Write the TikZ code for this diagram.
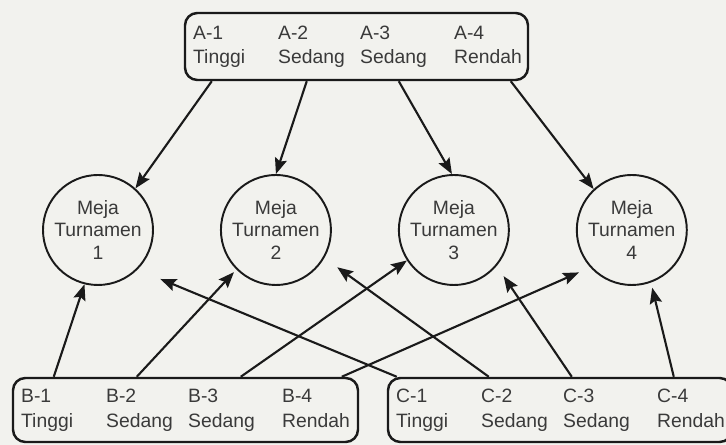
\documentclass[tikz,border=0pt]{standalone}
\usepackage{fontspec}
\setmainfont{Liberation Sans}
\usepackage{tikz}
\usetikzlibrary{arrows.meta,positioning}
\definecolor{Paper}{HTML}{F2F2EE}
\definecolor{Ink}{HTML}{1A1A1A}
\definecolor{Txt}{HTML}{3A3A3A}

\begin{document}
\begin{tikzpicture}[every node/.style={font=\fontsize{11}{14}\selectfont, text=Txt}]
  \fill[Paper] (0,0) rectangle (14.52,8.90);
  \useasboundingbox (0,0) rectangle (14.52,8.90);
  \tikzset{
    grp/.style={draw=Ink, line width=1.4pt, rounded corners=7pt, inner sep=0pt},
    meja/.style={draw=Ink, line width=1.1pt, circle, minimum size=2.2cm, inner sep=0pt,
                 align=center, font=\fontsize{11}{12.8}\selectfont},
    lbl/.style={anchor=north west, align=left, inner sep=0pt},
    arr/.style={-{Stealth[length=9pt,width=7pt,inset=1.5pt]}, draw=Ink, line width=1.2pt}
  }

  % kelompok asal
  \node[grp, minimum width=6.86cm, minimum height=1.34cm] (boxA) at (7.13,7.97) {};
  \node[grp, minimum width=6.90cm, minimum height=1.28cm] (boxB) at (3.71,0.70) {};
  \node[grp, minimum width=6.88cm, minimum height=1.28cm] (boxC) at (11.20,0.70) {};

  \foreach \g in {A,B,C}
    \foreach \i/\lv/\dx in {1/Tinggi/0.18, 2/Sedang/1.88, 3/Sedang/3.52, 4/Rendah/5.40}
      \node[lbl] (\g\i) at ([xshift=\dx cm, yshift=0.42cm]box\g.west) {\g-\i\\\lv};

  % meja turnamen
  \node[meja] (m1) at (1.96,4.30) {Meja\\Turnamen\\1};
  \node[meja, right=1.32cm of m1] (m2) {Meja\\Turnamen\\2};
  \node[meja, right=1.32cm of m2] (m3) {Meja\\Turnamen\\3};
  \node[meja, right=1.32cm of m3] (m4) {Meja\\Turnamen\\4};

  \foreach \dx/\t in {0.56/m1.48, 2.46/m2.90, 4.30/m3.92, 6.54/m4.133}
    \draw[arr] ([xshift=\dx cm]boxA.south west) -- (\t);

  \foreach \dx/\t/\s in {0.84/m1.256/0pt, 2.50/m2.225/2pt, 4.58/m3.213/0pt, 6.60/m4.222/7pt}
    \draw[arr, shorten >=\s] ([xshift=\dx cm]boxB.north west) -- (\t);

  \foreach \dx/\t/\s in {0.20/m1.315/14pt, 2.04/m2.330/9pt, 3.70/m3.320/7pt, 5.74/m4.290/3pt}
    \draw[arr, shorten >=\s] ([xshift=\dx cm]boxC.north west) -- (\t);
\end{tikzpicture}
\end{document}
